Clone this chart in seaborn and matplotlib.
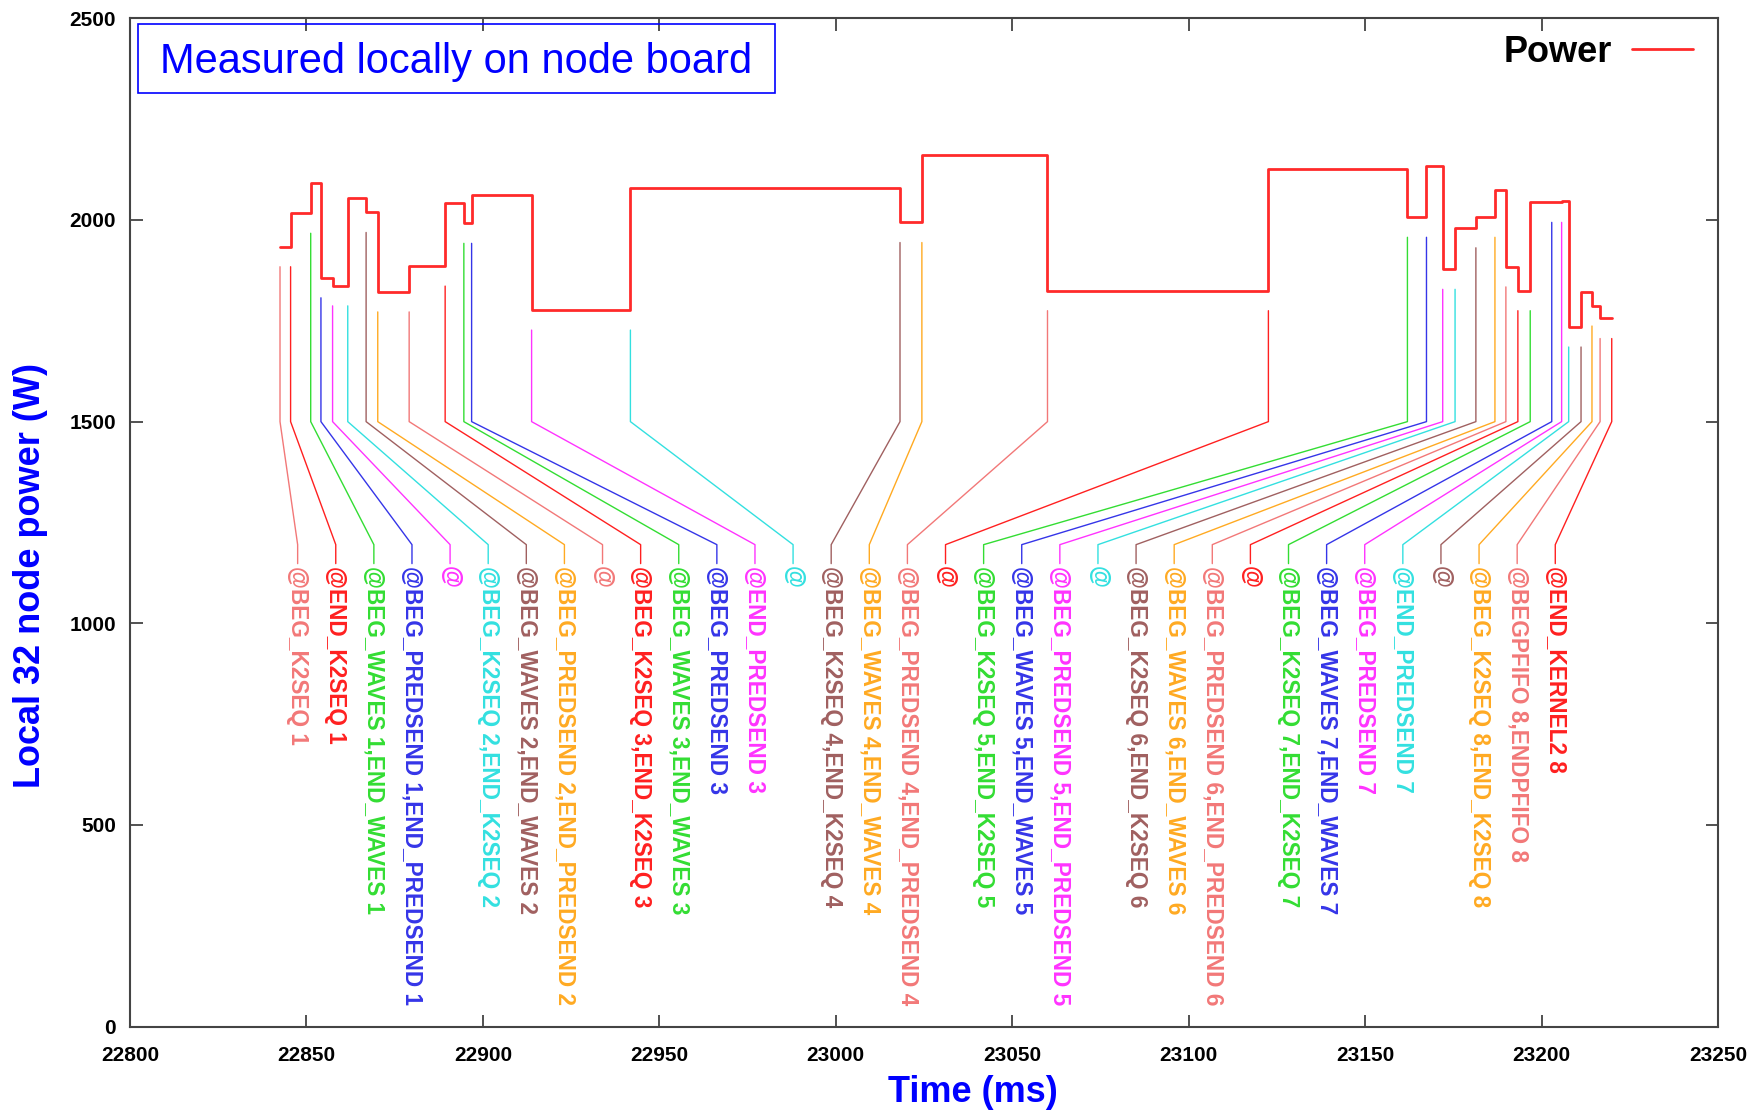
import matplotlib
matplotlib.use('Agg')
import matplotlib.pyplot as plt
import numpy as np
import pandas as pd
import seaborn as sns
from matplotlib.patches import Rectangle

# power steps (time in ms, power in W), last value repeated at the end time
power_t = [22842.5, 22845.5, 22851.2, 22854.1, 22857.4, 22861.7, 22866.9, 22870.2,
           22879.1, 22889.3, 22894.6, 22896.8, 22913.8, 22941.8, 23018.2, 23024.4,
           23060.0, 23122.6, 23162.0, 23167.4, 23172.0, 23175.5, 23181.4, 23186.8,
           23189.9, 23193.3, 23196.8, 23205.7, 23207.7, 23211.2, 23214.3, 23216.6, 23219.9]
power_w = [1934, 2017, 2091, 1857, 1837, 2054, 2019, 1822,
           1886, 2043, 1992, 2061, 1777, 2080, 1994, 2161,
           1825, 2127, 2007, 2134, 1878, 1981, 2007, 2074,
           1884, 1825, 2044, 2048, 1735, 1822, 1787, 1756, 1756]

# annotated events
event_t = [22842.5, 22845.5, 22851.2, 22854.1, 22857.4, 22861.7, 22866.9, 22870.2,
           22879.1, 22889.3, 22894.6, 22896.8, 22913.8, 22941.8, 23018.2, 23024.4,
           23060.0, 23122.6, 23162.0, 23167.4, 23172.0, 23175.5, 23181.4, 23186.8,
           23189.9, 23193.3, 23196.8, 23202.9, 23205.7, 23207.7, 23211.2, 23214.3,
           23216.6, 23219.9]
event_names = ["BEG_K2SEQ 1", "END_K2SEQ 1", "BEG_WAVES 1,END_WAVES 1",
               "BEG_PREDSEND 1,END_PREDSEND 1", "", "BEG_K2SEQ 2,END_K2SEQ 2",
               "BEG_WAVES 2,END_WAVES 2", "BEG_PREDSEND 2,END_PREDSEND 2", "",
               "BEG_K2SEQ 3,END_K2SEQ 3", "BEG_WAVES 3,END_WAVES 3", "BEG_PREDSEND 3",
               "END_PREDSEND 3", "", "BEG_K2SEQ 4,END_K2SEQ 4", "BEG_WAVES 4,END_WAVES 4",
               "BEG_PREDSEND 4,END_PREDSEND 4", "", "BEG_K2SEQ 5,END_K2SEQ 5",
               "BEG_WAVES 5,END_WAVES 5", "BEG_PREDSEND 5,END_PREDSEND 5", "",
               "BEG_K2SEQ 6,END_K2SEQ 6", "BEG_WAVES 6,END_WAVES 6",
               "BEG_PREDSEND 6,END_PREDSEND 6", "", "BEG_K2SEQ 7,END_K2SEQ 7",
               "BEG_WAVES 7,END_WAVES 7", "BEG_PREDSEND 7", "END_PREDSEND 7", "",
               "BEG_K2SEQ 8,END_K2SEQ 8", "BEGPFIFO 8,ENDPFIFO 8", "END_KERNEL2 8"]

palette = ['#f27878', '#ff2020', '#33dd33', '#3535e8', '#ff33ff', '#33e0e0', '#a06060', '#ffaa22']

sns.set_style('ticks')
plt.rcParams['font.family'] = ['Liberation Sans', 'DejaVu Sans']

fig = plt.figure(figsize=(17.62, 11.14), dpi=100)
ax = fig.add_axes([0.0738, 0.0784, 0.9012, 0.9052])

df = pd.DataFrame({'time': power_t, 'power': power_w})
sns.lineplot(data=df, x='time', y='power', drawstyle='steps-post', color='#ff2a2a',
             lw=2, label='Power', ax=ax)


def power_at(t):
    i = np.searchsorted(power_t, t, side='right') - 1
    return power_w[max(i, 0)]


# labels are spread evenly under the curve, with a leader line to each event
label_t = np.linspace(22847.5, 23203.9, len(event_t))
for i, (t, name) in enumerate(zip(event_t, event_names)):
    c = palette[i % len(palette)]
    top = min(power_at(t - 0.3), power_at(t + 0.3)) - 50
    ax.plot([label_t[i], label_t[i], t, t], [1148, 1195, 1500, top], color=c, lw=1)
    ax.text(label_t[i], 1143, '@' + name, rotation=-90, ha='center', va='top',
            color=c, fontsize=16.3, fontweight='bold')

ax.set_xlim(22800, 23250)
ax.set_ylim(0, 2500)
ax.set_xticks(range(22800, 23251, 50))
ax.set_yticks(range(0, 2501, 500))
ax.tick_params(direction='in', top=True, right=True, length=9, width=1.2,
               labelsize=15, color='#333333', labelcolor='black')
ax.tick_params(axis='x', pad=14)
ax.tick_params(axis='y', pad=10)
for lab in ax.get_xticklabels() + ax.get_yticklabels():
    lab.set_fontweight('bold')
for sp in ax.spines.values():
    sp.set_color('#444444')
    sp.set_linewidth(1.5)

ax.set_xlabel('Time (ms)', color='blue', fontsize=26, fontweight='bold')
ax.xaxis.set_label_coords(0.531, -0.0648)
ax.xaxis.label.set_va('center')
ax.set_ylabel('Local 32 node power (W)', color='blue', fontsize=26, fontweight='bold')
ax.yaxis.set_label_coords(-0.0627, 0.447)
ax.yaxis.label.set_va('center')

ax.legend(loc='upper right', bbox_to_anchor=(0.9945, 1.0), frameon=False,
          markerfirst=False, prop={'weight': 'bold', 'size': 26}, labelcolor='black',
          handlelength=1.7, handletextpad=0.55, borderaxespad=0.25, borderpad=0.2)

ax.add_patch(Rectangle((0.00504, 0.9259), 0.4011, 0.0684, transform=ax.transAxes,
                       fill=False, ec='blue', lw=1.2))
ax.text(0.2056, 0.9455, 'Measured locally on node board', transform=ax.transAxes,
        ha='center', va='baseline', color='blue', fontsize=30)

fig.savefig('out.png', dpi=100)
